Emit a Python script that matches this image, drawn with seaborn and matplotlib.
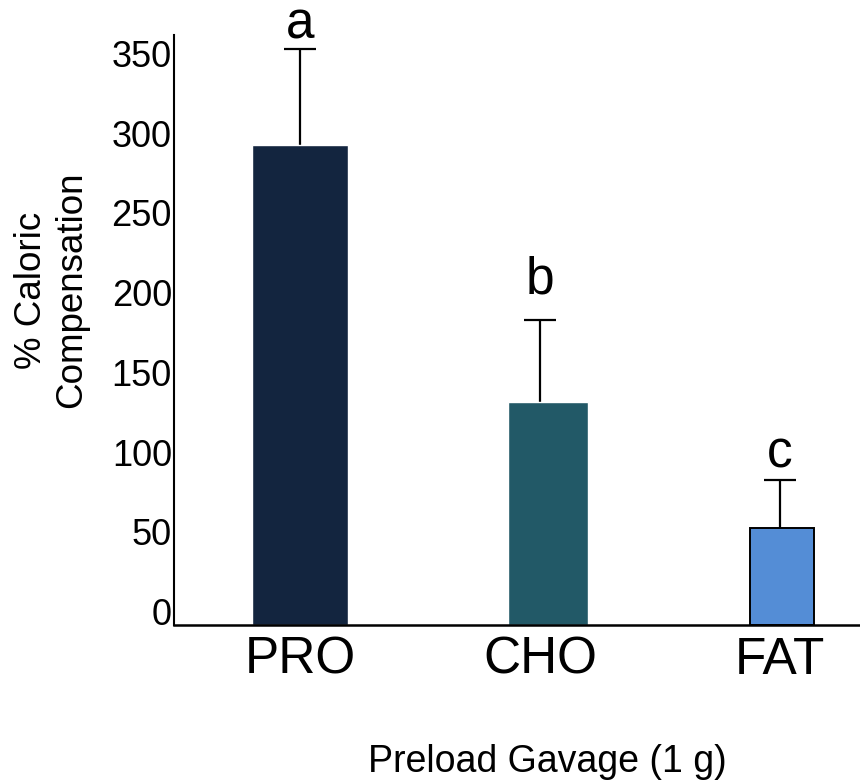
import numpy as np
import pandas as pd
import matplotlib
matplotlib.use("Agg")
import matplotlib.pyplot as plt
import seaborn as sns

# Data
categories = ["PRO", "CHO", "FAT"]
compensation = [301, 140, 61]
sem = [60, 51, 30]
letters = ["a", "b", "c"]
colors = ["#13253f", "#225967", "#548dd6"]
y_ticks = [0, 50, 100, 150, 200, 250, 300, 350]

sns.set_style("white")
plt.rcParams["font.family"] = ["Liberation Sans", "DejaVu Sans"]
plt.rcParams["text.color"] = "black"
plt.rcParams["axes.labelcolor"] = "black"
plt.rcParams["xtick.color"] = "black"
plt.rcParams["ytick.color"] = "black"

df = pd.DataFrame({"group": categories, "value": compensation})

fig = plt.figure(figsize=(8.6, 7.84), dpi=100)
ax = fig.add_axes([174 / 860, 1 - 625 / 784, 1 - 174 / 860, (625 - 35) / 784])

# error bars sit behind the bars so only the upper half shows
ax.errorbar(np.arange(len(categories)), compensation, yerr=sem, fmt="none",
            ecolor="black", elinewidth=1.6, capsize=11.5, capthick=1.6, zorder=1)

sns.barplot(data=df, x="group", y="value", hue="group", palette=colors,
            legend=False, ax=ax, width=0.4, saturation=1, zorder=2)

# individual bar widths / centres
bar_widths = [0.40, 0.333, 0.267]
bar_centers = [0.0, 1.033, 2.008]
for patch, w, c in zip(ax.patches, bar_widths, bar_centers):
    patch.set_width(w)
    patch.set_x(c - w / 2)
    patch.set_zorder(2)
fat = ax.patches[2]
fat.set_edgecolor("black")
fat.set_linewidth(1.4)

# significance letters
letter_y = [368, 208, 98.5]
for i, (lt, ly) in enumerate(zip(letters, letter_y)):
    ax.text(i, ly, lt, ha="center", va="baseline", fontsize=37, color="black")

ax.set_xlim(-0.525, 2.333)
ax.set_ylim(0, 370)
ax.set_yticks(y_ticks)
ax.set_yticklabels([str(t) for t in y_ticks], fontsize=26)
for lab in ax.get_yticklabels():
    lab.set_va("baseline")
ax.tick_params(axis="y", length=0, pad=1.5, labelcolor="black")
ax.tick_params(axis="x", length=0, pad=7.6, labelsize=37, labelcolor="black")

sns.despine(ax=ax)
ax.spines["left"].set_linewidth(1.5)
ax.spines["bottom"].set_linewidth(1.8)
ax.spines["left"].set_color("black")
ax.spines["bottom"].set_color("black")

ax.set_ylabel("% Caloric\nCompensation", fontsize=26.5, linespacing=1.2, color="black")
ax.yaxis.label.set_va("center")
ax.yaxis.label.set_ha("center")
ax.yaxis.set_label_coords(-0.178, 0.568)

ax.set_xlabel("Preload Gavage (1 g)", fontsize=27, color="black")
ax.xaxis.label.set_va("baseline")
ax.xaxis.set_label_coords(0.544, -0.2486)

fig.savefig("out.png", dpi=100)
